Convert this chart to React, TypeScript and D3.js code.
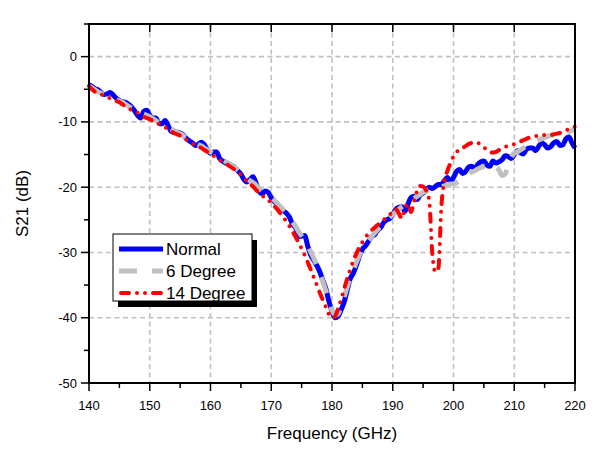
import React from "react";
import * as d3 from "d3";

const freqStart = 140;
const freqStep = 0.5;

const normalS21 = [
  -4.3, -4.6, -4.9, -5.1, -5.5, -5.8, -5.7, -5.5, -5.9, -6.4,
  -6.7, -6.9, -7.0, -7.3, -7.7, -8.3, -9.0, -9.4, -8.4, -8.2,
  -9.0, -9.4, -9.4, -10.2, -10.3, -9.8, -10.5, -11.4, -11.6, -11.6,
  -11.7, -12.0, -12.5, -12.9, -13.2, -13.6, -13.4, -13.1, -13.5, -14.3,
  -14.8, -14.6, -14.6, -15.6, -16.0, -16.3, -16.4, -16.7, -17.0, -17.5,
  -18.0, -18.8, -19.2, -18.8, -18.4, -19.4, -20.6, -21.0, -20.6, -20.8,
  -21.6, -22.2, -22.6, -23.1, -23.6, -24.0, -24.6, -25.7, -26.2, -27.6,
  -27.5, -27.4, -29.0, -30.4, -31.2, -32.0, -33.0, -34.3, -35.6, -37.5,
  -39.0, -40.0, -39.8, -38.8, -37.6, -35.8, -34.0, -33.2, -32.0, -30.6,
  -29.5, -29.0, -28.3, -27.6, -27.3, -26.6, -26.2, -25.4, -25.0, -24.8,
  -24.2, -23.4, -23.1, -23.0, -23.7, -22.6, -21.6, -21.4, -21.9, -21.2,
  -20.9, -20.4, -20.0, -20.2, -19.9, -19.6, -19.6, -19.0, -18.5, -19.2,
  -18.5, -17.6, -17.3, -17.9, -17.6, -16.9, -16.8, -17.2, -16.5, -16.1,
  -16.0, -16.6, -16.8, -16.0, -16.3, -16.1, -15.8, -15.2, -15.3, -15.6,
  -15.0, -14.4, -14.7, -14.9, -14.2, -14.0, -14.0, -14.4, -13.8, -13.2,
  -13.5, -14.0, -13.8, -13.2, -13.0, -13.6, -13.5, -12.6, -12.3, -13.2,
  -14.0,
];

const deg6S21 = [
  -4.5, -4.8, -5.1, -5.4, -5.6, -5.8, -6.0, -6.2, -6.4, -6.6,
  -6.8, -7.0, -7.3, -7.6, -7.9, -8.2, -8.5, -8.7, -8.8, -9.0,
  -9.2, -9.5, -9.8, -10.1, -10.3, -10.5, -10.8, -11.1, -11.3, -11.6,
  -11.8, -12.1, -12.4, -12.7, -13.0, -13.3, -13.5, -13.7, -14.0, -14.3,
  -14.6, -14.9, -15.2, -15.5, -15.8, -16.1, -16.4, -16.7, -17.0, -17.4,
  -17.8, -18.3, -18.7, -19.0, -19.3, -19.7, -20.2, -20.6, -20.9, -21.2,
  -21.6, -22.0, -22.5, -23.0, -23.5, -24.0, -24.6, -25.3, -26.0, -26.8,
  -27.5, -28.2, -29.0, -29.9, -30.9, -32.0, -33.2, -34.5, -35.9, -37.4,
  -38.8, -39.6, -39.4, -38.2, -36.8, -35.3, -33.9, -32.7, -31.5, -30.5,
  -29.6, -28.9, -28.2, -27.6, -27.0, -26.5, -26.0, -25.5, -25.0, -24.6,
  -24.2, -23.8, -23.4, -23.0, -22.7, -22.3, -22.0, -21.7, -21.4, -21.1,
  -20.8, -20.6, -20.4, -20.3, -20.2, -20.1, -20.0, -19.8, -19.6, -19.5,
  -19.5, -19.3, -19.0, -18.7, -18.3, -18.0, -17.7, -17.5, -17.2, -17.0,
  -16.8, -16.7, -16.6, -16.5, -16.8, -17.4, -18.2, -18.0, -16.5, -15.4,
  -14.8, -14.6, -14.3, -14.0, -13.7, -13.4, -13.2, -13.0, -12.8, -12.6,
  -12.4, -12.2, -12.1, -12.0, -11.9, -11.8, -11.7, -11.6, -11.5, -11.3,
  -11.0,
];

const deg14S21 = [
  -4.5, -5.0, -5.4, -5.6, -5.8, -6.0, -6.2, -6.4, -6.6, -6.8,
  -7.0, -7.3, -7.6, -7.9, -8.2, -8.4, -8.6, -8.9, -9.2, -9.4,
  -9.6, -9.8, -10.0, -10.3, -10.5, -10.8, -11.1, -11.4, -11.7, -11.9,
  -12.1, -12.4, -12.7, -13.0, -13.3, -13.6, -13.8, -14.0, -14.3, -14.6,
  -14.9, -15.2, -15.5, -15.8, -16.1, -16.4, -16.7, -17.0, -17.3, -17.7,
  -18.1, -18.6, -19.1, -19.5, -19.9, -20.4, -20.9, -21.3, -21.6, -22.0,
  -22.4, -22.9, -23.4, -24.0, -24.6, -25.3, -26.0, -26.8, -27.6, -28.5,
  -29.4, -30.4, -31.5, -32.6, -33.8, -35.0, -36.2, -37.3, -38.4, -39.5,
  -40.0, -39.8, -38.6, -37.2, -35.6, -34.0, -32.6, -31.3, -30.2, -29.2,
  -28.4, -27.7, -27.1, -26.6, -26.2, -25.8, -25.4, -25.0, -24.6, -24.2,
  -23.8, -23.4, -24.0, -24.8, -23.2, -22.5, -23.8, -22.2, -20.6, -19.8,
  -19.9, -20.5, -22.0, -30.0, -33.0, -32.5, -23.0, -19.0, -17.5, -16.3,
  -15.3, -14.6, -14.3, -14.0, -13.7, -13.4, -13.2, -13.1, -13.2, -13.5,
  -13.9, -14.3, -14.6, -14.7, -14.6, -14.3, -14.0, -13.8, -13.7, -13.6,
  -13.4, -13.2, -13.0, -12.8, -12.6, -12.4, -12.3, -12.2, -12.1, -12.0,
  -12.0, -12.0, -12.0, -11.9, -11.8, -11.7, -11.5, -11.3, -11.1, -10.9,
  -10.7,
];

const xTicks = [140, 150, 160, 170, 180, 190, 200, 210, 220];
const xMinorTicks = [145, 155, 165, 175, 185, 195, 205, 215];
const yTicks = [0, -10, -20, -30, -40, -50];
const yMinorTicks = [5, -5, -15, -25, -35, -45];

const seriesNames = ["Normal", "6 Degree", "14 Degree"];
const seriesColors = ["#0000ff", "#c0c0c0", "#ff0000"];

const W = 611;
const H = 462;
const margin = { left: 89, top: 24, right: 36, bottom: 79 };
const FONT = "Arial, 'Liberation Sans', sans-serif";

export default function App() {
  const x = d3.scaleLinear().domain([140, 220]).range([margin.left, W - margin.right]);
  const y = d3.scaleLinear().domain([-50, 5]).range([H - margin.bottom, margin.top]);
  const [x0, x1] = x.range();
  const [y0, y1] = y.range(); // y0 bottom, y1 top

  const toPoints = (vals: number[]) =>
    vals.map((v, i) => [freqStart + i * freqStep, v] as [number, number]);

  const line = d3
    .line<[number, number]>()
    .x((d) => x(d[0]))
    .y((d) => y(d[1]))
    .curve(d3.curveMonotoneX);

  const styles = [
    { width: 5, dash: undefined as string | undefined, cap: "butt" },
    { width: 5, dash: "17 14", cap: "butt" },
    { width: 4, dash: "8 8 0 8 0 8", cap: "round" },
  ];
  const data = [normalS21, deg6S21, deg14S21];

  const legend = { x: 113, y: 234, w: 139, h: 67 };

  return (
    <svg width={W} height={H} style={{ position: "absolute", left: 0, top: 0, background: "#fff" }}>
      <rect x={0} y={0} width={W} height={H} fill="#fff" />
      {/* grid */}
      <g stroke="#c0c0c0" strokeWidth={1.6} strokeDasharray="5 3.5">
        {xTicks
          .filter((t) => t > 140 && t < 220)
          .map((t) => (
            <line key={"gx" + t} x1={x(t)} x2={x(t)} y1={y1} y2={y0} />
          ))}
        {yTicks
          .filter((t) => t > -50)
          .map((t) => (
            <line key={"gy" + t} x1={x0} x2={x1} y1={y(t)} y2={y(t)} />
          ))}
      </g>
      {/* series */}
      <g fill="none">
        {data.map((vals, i) => (
          <path
            key={seriesNames[i]}
            d={line(toPoints(vals)) || ""}
            stroke={seriesColors[i]}
            strokeWidth={styles[i].width}
            strokeDasharray={styles[i].dash}
            strokeLinecap={styles[i].cap as any}
            strokeLinejoin="round"
          />
        ))}
      </g>
      {/* frame */}
      <rect x={x0} y={y1} width={x1 - x0} height={y0 - y1} fill="none" stroke="#000" strokeWidth={2} />
      {/* ticks */}
      <g stroke="#000" strokeWidth={1.5}>
        {xTicks.map((t) => (
          <line key={"xb" + t} x1={x(t)} x2={x(t)} y1={y0} y2={y0 + 8} />
        ))}
        {xMinorTicks.map((t) => (
          <line key={"xbm" + t} x1={x(t)} x2={x(t)} y1={y0} y2={y0 + 5} />
        ))}
        {xTicks.map((t) => (
          <line key={"xt" + t} x1={x(t)} x2={x(t)} y1={y1} y2={y1 + 8} />
        ))}
        {yTicks.map((t) => (
          <line key={"yl" + t} x1={x0} x2={x0 - 8} y1={y(t)} y2={y(t)} />
        ))}
        {yMinorTicks.map((t) => (
          <line key={"ylm" + t} x1={x0} x2={x0 - 5} y1={y(t)} y2={y(t)} />
        ))}
      </g>
      {/* tick labels */}
      <g fontFamily={FONT} fontSize={13} fill="#000">
        {xTicks.map((t) => (
          <text key={"xl" + t} x={x(t)} y={y0 + 27} textAnchor="middle">
            {t}
          </text>
        ))}
        {yTicks.map((t) => (
          <text key={"yl" + t} x={x0 - 12} y={y(t) + 4.5} textAnchor="end">
            {t}
          </text>
        ))}
      </g>
      {/* axis titles */}
      <text x={(x0 + x1) / 2} y={439} textAnchor="middle" fontFamily={FONT} fontSize={17}>
        Frequency (GHz)
      </text>
      <text
        transform={`translate(28, ${(y0 + y1) / 2}) rotate(-90)`}
        textAnchor="middle"
        fontFamily={FONT}
        fontSize={17}
      >
        S21 (dB)
      </text>
      {/* legend */}
      <rect x={legend.x + 5} y={legend.y + 6} width={legend.w} height={legend.h} fill="#000" />
      <rect x={legend.x} y={legend.y} width={legend.w} height={legend.h} fill="#fff" stroke="#000" strokeWidth={1} />
      {seriesNames.map((name, i) => {
        const ly = legend.y + 15 + i * 22;
        return (
          <g key={"lg" + name}>
            <line
              x1={legend.x + (i === 2 ? 8 : 6)}
              x2={legend.x + (i === 2 ? 48 : 50)}
              y1={ly}
              y2={ly}
              stroke={seriesColors[i]}
              strokeWidth={styles[i].width}
              strokeDasharray={i === 1 ? "18 15" : styles[i].dash}
              strokeLinecap={styles[i].cap as any}
            />
            <text x={legend.x + 53} y={ly + 6} fontFamily={FONT} fontSize={17} fill="#000">
              {name}
            </text>
          </g>
        );
      })}
    </svg>
  );
}
